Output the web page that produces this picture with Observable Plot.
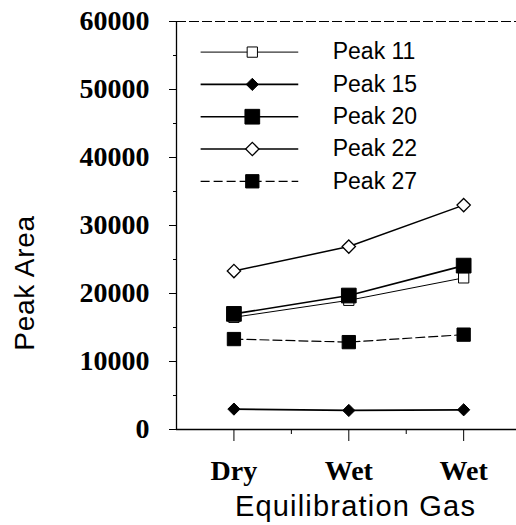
<!DOCTYPE html>
<html>
<head>
<meta charset="utf-8">
<script src="https://cdn.jsdelivr.net/npm/d3@7"></script>
<script src="https://cdn.jsdelivr.net/npm/@observablehq/plot@0.6"></script>
<style>
  html, body { margin: 0; padding: 0; background: white; }
  #wrap { position: relative; width: 516px; height: 525px; }
  #chart svg { display: block; }
  #ytitle {
    position: absolute; left: 25px; top: 283px;
    transform: translate(-50%, -50%) rotate(-90deg);
    font-family: "Liberation Sans", Arial, sans-serif; font-size: 28px;
    letter-spacing: 0.7px; white-space: nowrap; color: black; line-height: 1;
  }
</style>
</head>
<body>
<div id="wrap">
  <div id="chart"></div>
  <div id="ytitle">Peak Area</div>
</div>
<script>
// ---- data ----
const categories = ["Dry", "Wet", "Wet"];
const positions = [1, 2, 3];
const peak11 = [16500, 19000, 22300];
const peak15 = [3000, 2800, 2900];
const peak20 = [17000, 19700, 24100];
const peak22 = [23300, 26900, 33000];
const peak27 = [13300, 12850, 13950];
const seriesNames = ["Peak 11", "Peak 15", "Peak 20", "Peak 22", "Peak 27"];
const seriesValues = [peak11, peak15, peak20, peak22, peak27];
const yTicks = [0, 10000, 20000, 30000, 40000, 50000, 60000];
const yMinorTicks = [5000, 15000, 25000, 35000, 45000, 55000];
const xMinorTicks = [1.5, 2.5];
const xTitle = "Equilibration Gas";

// ---- styles ----
const styles = {
  "Peak 11": {symbol: "square", fill: "white", r: 5.8, sw: 1, dash: null, lw: 1},
  "Peak 15": {symbol: "diamond2", fill: "black", r: 5.5, sw: 1, dash: null, lw: 1.8},
  "Peak 20": {symbol: "square", fill: "black", r: 8.3, sw: 1, dash: null, lw: 1.6},
  "Peak 22": {symbol: "diamond2", fill: "white", r: 6, sw: 1.3, dash: null, lw: 1.5},
  "Peak 27": {symbol: "square", fill: "black", r: 7.5, sw: 1, dash: "9,4", lw: 1.2}
};

// legend layout (data units)
const legendTop = 55500, legendStep = 4750;
const legendX1 = 0.71, legendX2 = 1.56, legendXMark = 1.16, legendXText = 1.86;

const rows = seriesNames.flatMap((name, s) =>
  positions.map((p, i) => ({series: name, x: p, y: seriesValues[s][i]})));

const marks = [];
marks.push(Plot.ruleY([60000], {stroke: "black", strokeWidth: 1.2, strokeDasharray: "10,3"}));
marks.push(Plot.ruleX([0.5], {stroke: "black", strokeWidth: 1.3}));
marks.push(Plot.ruleY([0], {stroke: "black", strokeWidth: 1.3}));
marks.push(Plot.axisY({ticks: yTicks, tickSize: 7, tickPadding: 20, tickFormat: d => String(d),
  fontSize: 28, fontFamily: "Liberation Serif", fontWeight: "bold", label: null}));
marks.push(Plot.axisY({ticks: yMinorTicks, tickSize: 3, tickFormat: () => "", label: null}));
marks.push(Plot.axisX({ticks: positions, tickSize: 12, tickPadding: 19, tickFormat: (d, i) => categories[i],
  fontSize: 28, fontFamily: "Liberation Serif", fontWeight: "bold", label: null}));
marks.push(Plot.axisX({ticks: xMinorTicks, tickSize: 5, tickFormat: () => "", label: null}));

seriesNames.forEach((name) => {
  const st = styles[name];
  const data = rows.filter(d => d.series === name);
  marks.push(Plot.line(data, {x: "x", y: "y", stroke: "black", strokeWidth: st.lw, strokeDasharray: st.dash}));
});
seriesNames.forEach((name) => {
  const st = styles[name];
  const data = rows.filter(d => d.series === name);
  marks.push(Plot.dot(data, {x: "x", y: "y", symbol: () => st.symbol, r: st.r, fill: st.fill, stroke: "black", strokeWidth: st.sw}));
});

// legend
seriesNames.forEach((name, i) => {
  const st = styles[name];
  const y = legendTop - i * legendStep;
  marks.push(Plot.link([name], {x1: legendX1, x2: legendX2, y1: y, y2: y, stroke: "black", strokeWidth: st.lw, strokeDasharray: st.dash}));
  marks.push(Plot.dot([name], {x: legendXMark, y: y, symbol: () => st.symbol, r: st.r, fill: st.fill, stroke: "black", strokeWidth: st.sw}));
  marks.push(Plot.text([name], {x: legendXText, y: y, text: d => d, textAnchor: "start", fontSize: 23, fontFamily: "Liberation Sans", fill: "black"}));
});

// x axis title
marks.push(Plot.text([xTitle], {frameAnchor: "bottom", dx: 9, dy: 86, text: d => d, fontSize: 29, fontFamily: "Liberation Sans", fill: "black"}));

const chart = Plot.plot({
  width: 516,
  height: 525,
  marginLeft: 176,
  marginRight: 0,
  marginTop: 21,
  marginBottom: 96,
  x: {domain: [0.5, 3.46]},
  y: {domain: [0, 60000]},
  style: {background: "white", color: "black", overflow: "visible"},
  marks
});
d3.select(chart).selectAll("text")
  .filter(function () { return this.textContent === xTitle; })
  .style("letter-spacing", "1.2px");
document.getElementById("chart").appendChild(chart);
</script>
</body>
</html>
